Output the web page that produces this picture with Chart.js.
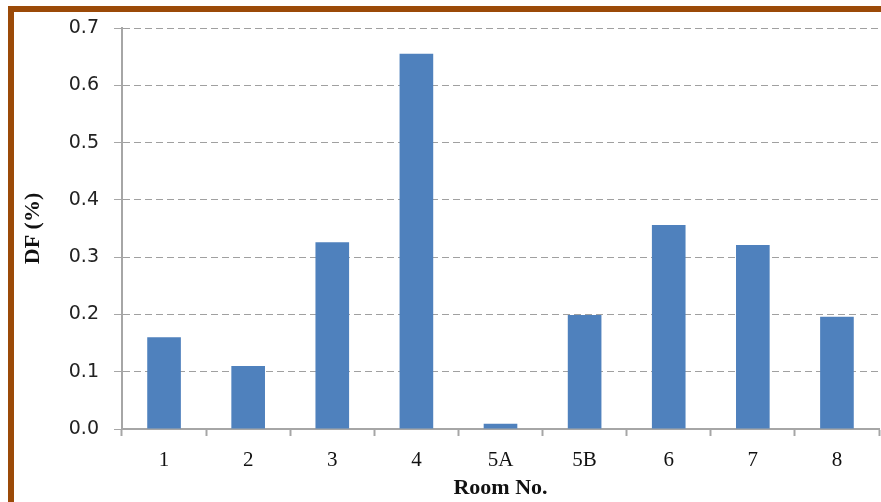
<!DOCTYPE html>
<html>
<head>
<meta charset="utf-8">
<script src="https://cdn.jsdelivr.net/npm/chart.js@4/dist/chart.umd.min.js"></script>
<style>
  html, body { margin: 0; padding: 0; background: #ffffff; }
  #wrap { position: relative; width: 881px; height: 502px; overflow: hidden; background: #ffffff; }
  #frame {
    position: absolute; left: 8px; top: 6px; width: 1000px; height: 1000px;
    border-top: 6px solid #9b4a08; border-left: 6px solid #9b4a08;
    box-sizing: border-box;
  }
  #chart { position: absolute; left: 0; top: 0; }
</style>
</head>
<body>
<div id="wrap">
  <div id="frame"></div>
  <canvas id="chart" width="881" height="502"></canvas>
</div>
<script>
// Daylight factor per room
const rooms = ['1', '2', '3', '4', '5A', '5B', '6', '7', '8'];
const dfValues = [0.16, 0.11, 0.326, 0.655, 0.009, 0.199, 0.356, 0.321, 0.196];
const yTickValues = [0, 0.1, 0.2, 0.3, 0.4, 0.5, 0.6, 0.7];

const axisGrey = '#a6a6a6';
const serif = '"Liberation Serif", "Times New Roman", serif';

new Chart(document.getElementById('chart'), {
  type: 'bar',
  data: {
    labels: rooms,
    datasets: [{
      label: 'DF (%)',
      data: dfValues,
      backgroundColor: '#4f81bd',
      borderWidth: 0,
      categoryPercentage: 1.0,
      barPercentage: 0.4
    }]
  },
  options: {
    responsive: false,
    animation: false,
    devicePixelRatio: 1,
    layout: { padding: { left: 0, top: 28, right: 2, bottom: 0 } },
    plugins: {
      legend: { display: false },
      tooltip: { enabled: false }
    },
    scales: {
      x: {
        offset: true,
        grid: {
          offset: true,
          drawOnChartArea: false,
          drawTicks: true,
          tickLength: 7,
          tickColor: axisGrey,
          tickWidth: 2
        },
        border: { display: true, color: axisGrey, width: 2 },
        ticks: {
          color: '#111111',
          font: { family: serif, size: 21 },
          padding: 12,
          maxRotation: 0
        },
        title: {
          display: true,
          text: 'Room No.',
          color: '#111111',
          font: { family: serif, size: 22, weight: 'bold' },
          padding: { top: 0, bottom: 0 }
        },
        afterFit: (s) => { s.height = 73; }
      },
      y: {
        min: 0,
        max: 0.7,
        afterBuildTicks: (s) => { s.ticks = yTickValues.map(v => ({ value: v })); },
        grid: {
          color: '#a0a0a0',
          lineWidth: 1,
          drawTicks: true,
          tickLength: 8,
          tickColor: axisGrey,
          tickWidth: 1,
          tickBorderDash: []
        },
        border: { display: true, color: axisGrey, width: 2, dash: [7, 4] },
        ticks: {
          color: '#222222',
          font: { family: '"DejaVu Sans", Verdana, sans-serif', size: 19 },
          padding: 15,
          callback: (v) => Number(v).toFixed(1)
        },
        title: {
          display: true,
          text: 'DF (%)',
          color: '#111111',
          font: { family: serif, size: 22, weight: 'bold' },
          padding: { top: 20, bottom: 0 }
        },
        afterFit: (s) => { s.width = 122; }
      }
    }
  }
});
</script>
</body>
</html>
